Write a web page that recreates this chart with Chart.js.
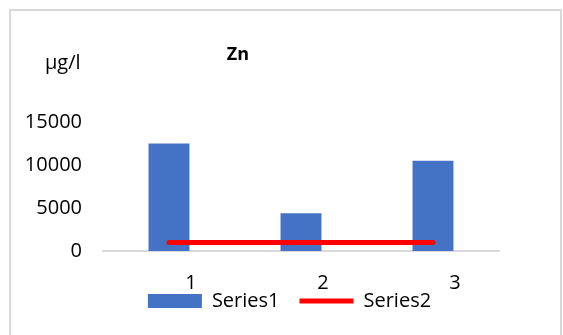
<!DOCTYPE html>
<html>
<head>
<meta charset="utf-8">
<script src="https://cdn.jsdelivr.net/npm/chart.js@4/dist/chart.umd.min.js"></script>
<style>
  html, body { margin: 0; padding: 0; background: #fff; }
  #wrap { position: relative; width: 563px; height: 335px; overflow: hidden; }
  #frame { position: absolute; left: 9px; top: 9px; width: 553px; height: 340px;
           border: 2px solid #d9d9d9; border-bottom: none; box-sizing: border-box; }
  canvas { position: absolute; left: 0; top: 0; }
</style>
</head>
<body>
<div id="wrap">
  <div id="frame"></div>
  <canvas id="c" width="563" height="335"></canvas>
</div>
<script>
// Zinc concentrations per sample and the reference limit
const categories = ['1', '2', '3'];
const series1 = [12500, 4400, 10500];
const series2 = [1000, 1000, 1000];
const yTicks = [0, 5000, 10000, 15000];
const chartTitle = 'Zn';
const unitLabel = 'µg/l';

const FONT = '"Open Sans", "Liberation Sans", sans-serif';

const headerText = {
  id: 'headerText',
  afterDraw(chart) {
    const ctx = chart.ctx;
    ctx.save();
    ctx.fillStyle = '#000';
    ctx.textBaseline = 'middle';
    ctx.textAlign = 'left';
    ctx.font = '20px ' + FONT;
    ctx.fillText(unitLabel, 45, 63);
    ctx.textAlign = 'center';
    ctx.font = 'bold 18px ' + FONT;
    ctx.fillText(chartTitle, 238, 55);
    ctx.restore();
  }
};

new Chart(document.getElementById('c'), {
  data: {
    labels: categories,
    datasets: [
      {
        type: 'line',
        label: 'Series2',
        data: series2,
        borderColor: '#ff0000',
        backgroundColor: '#ff0000',
        borderWidth: 5,
        borderCapStyle: 'round',
        pointRadius: 0,
        pointStyle: 'line',
        order: 0
      },
      {
        type: 'bar',
        label: 'Series1',
        data: series1,
        backgroundColor: '#4472c4',
        borderWidth: 0,
        barPercentage: 0.31,
        categoryPercentage: 1,
        pointStyle: 'rect',
        order: 1
      }
    ]
  },
  options: {
    responsive: false,
    animation: false,
    layout: { padding: { left: 16, right: 0, top: 122, bottom: 14 } },
    plugins: {
      title: { display: false },
      tooltip: { enabled: false },
      legend: {
        position: 'bottom',
        reverse: true,
        labels: {
          usePointStyle: true,
          pointStyleWidth: 54,
          boxHeight: 14,
          padding: 20,
          color: '#000',
          font: { family: FONT, size: 20 }
        }
      }
    },
    scales: {
      x: {
        grid: { display: false, drawTicks: false },
        border: { display: true, color: '#d9d9d9', width: 2 },
        ticks: { color: '#000', font: { family: FONT, size: 20 }, mirror: true, padding: -44, labelOffset: 22, maxRotation: 0 },
        afterFit(scale) { scale.height = 20; }
      },
      y: {
        min: 0,
        max: 15000,
        afterBuildTicks(scale) { scale.ticks = yTicks.map(v => ({ value: v })); },
        grid: { display: false, drawTicks: false },
        border: { display: false },
        ticks: { color: '#000', font: { family: FONT, size: 20 }, padding: 21, callback: v => String(v) },
        afterFit(scale) { scale.width = 87; }
      },
      y2: {
        position: 'right',
        display: true,
        grid: { display: false, drawTicks: false },
        border: { display: false },
        ticks: { display: false },
        afterFit(scale) { scale.width = 64; }
      }
    }
  },
  plugins: [headerText]
});
</script>
</body>
</html>
